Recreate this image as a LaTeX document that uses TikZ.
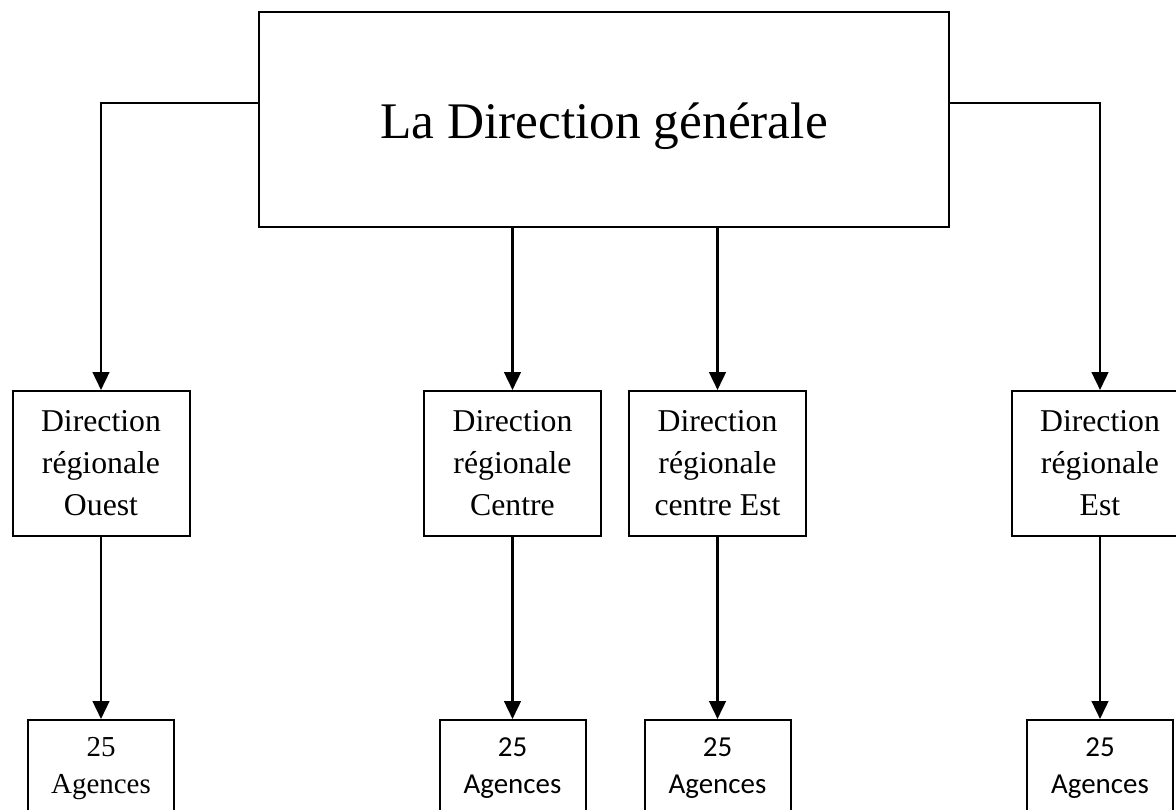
\documentclass[tikz,border=0pt]{standalone}
\usepackage{fontspec}
\setmainfont{Liberation Serif}
\newfontfamily\calibrifont{Carlito}
\usetikzlibrary{arrows.meta,positioning}
\tikzset{
  dirbox/.style={rectangle, draw=black, line width=1.5pt, align=center,
                 minimum width=132.75pt, minimum height=108.75pt, inner sep=0pt,
                 font=\fontsize{23.8}{31.5}\selectfont},
  agbox/.style={rectangle, draw=black, line width=1.5pt, align=center,
                minimum width=109.5pt, anchor=north, inner xsep=0pt, inner ysep=13pt,
                font=\fontsize{21.7}{27.75}\selectfont},
  arrow/.style={-{Triangle[length=13.5pt, width=12.5pt]}, line width=1.9pt},
}

\begin{document}
\begin{tikzpicture}[
    x=0.75pt,
    y=-0.75pt,
    topbox/.style={rectangle, draw=black, line width=1.5pt,
                   minimum width=517.5pt, minimum height=161.25pt,
                   text height=29.25pt, text depth=0pt,
                   font=\fontsize{38.5}{46}\selectfont},
  ]
    \useasboundingbox (0,0) rectangle (1176,809);

    % Top: general management
    \node[topbox] (dg) at (604,119.5) {La Direction générale};

    % Row 1: regional managements
    \node[dirbox] (dro)  at (101,463.5)  {Direction\\régionale\\Ouest};
    \node[dirbox] (drc)  at (512.5,463.5) {Direction\\régionale\\Centre};
    \node[dirbox] (drce) at (717.5,463.5) {Direction\\régionale\\centre Est};
    \node[dirbox] (dre)  at (1100,463.5)  {Direction\\régionale\\Est};

    % Row 2: agencies (boxes run past the lower edge)
    \node[agbox] (ago)  at (101,719)   {25\\Agences};
    \node[agbox, font=\calibrifont\fontsize{21.7}{27.75}\selectfont] (agc)  at (512.5,719) {25\\Agences};
    \node[agbox, font=\calibrifont\fontsize{21.7}{27.75}\selectfont] (agce) at (717.5,719) {25\\Agences};
    \node[agbox, font=\calibrifont\fontsize{21.7}{27.75}\selectfont] (age)  at (1100,719)  {25\\Agences};

    % Arrows from the top box
    \draw[arrow] ([yshift=12.4pt]dg.west) -| (dro);
    \draw[arrow] ([yshift=12.4pt]dg.east) -| (dre);
    \draw[arrow] (dg.south -| drc) -- (drc);
    \draw[arrow] (dg.south -| drce) -- (drce);

    % Arrows to the agencies
    \draw[arrow] (dro)  -- (ago);
    \draw[arrow] (drc)  -- (agc);
    \draw[arrow] (drce) -- (agce);
    \draw[arrow] (dre)  -- (age);

  \end{tikzpicture}
\end{document}
